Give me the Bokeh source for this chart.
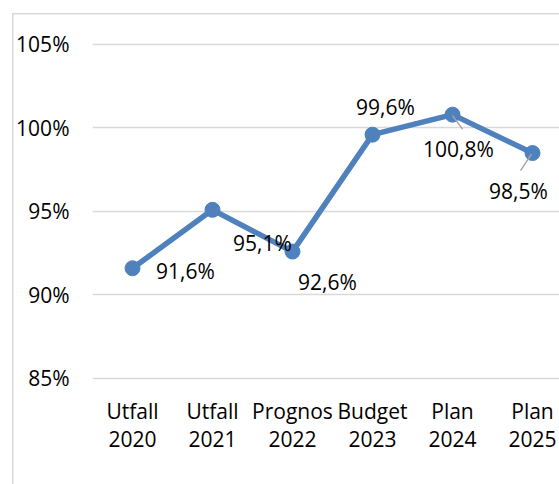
from bokeh.plotting import figure
from bokeh.models import ColumnDataSource, FixedTicker, Range1d
from bokeh.core.properties import value
from bokeh.embed import file_html
from bokeh.resources import INLINE

# ---- data ----
categories = ["Utfall\n2020", "Utfall\n2021", "Prognos\n2022", "Budget\n2023", "Plan\n2024", "Plan\n2025"]
values = [91.6, 95.1, 92.6, 99.6, 100.8, 98.5]
value_labels = ["91,6%", "95,1%", "92,6%", "99,6%", "100,8%", "98,5%"]
y_ticks = [85, 90, 95, 100, 105]
y_tick_labels = ["85%", "90%", "95%", "100%", "105%"]

# ---- label placement (screen px, relative to the point) ----
label_dx = [53, 50, 35, 13, 6, -14]
label_dy = [3, 33, 30, -28, 34, 38]
# leader lines (index, start offset px, end offset px)
leaders = [(4, (0, 1), (10, 14.5)), (5, (-1, 1), (-12, 17.5))]

FONT = "Open Sans"
FS = "21px"
W, H = 559, 484
BL, BR, BT, BB = 92, 0, 28, 104
X0, X1 = -0.5, 5.3375
Y0, Y1 = 84.88, 105.958
fw, fh = W - BL - BR, H - BT - BB
sx = fw / (X1 - X0)
sy = fh / (Y1 - Y0)

xs = list(range(len(categories)))
src = ColumnDataSource(dict(x=xs, y=values, lab=value_labels, dx=label_dx, dy=label_dy))

p = figure(width=W, height=H, output_backend="svg", toolbar_location=None,
           x_range=Range1d(X0, X1), y_range=Range1d(Y0, Y1),
           min_border_left=BL, min_border_right=BR, min_border_top=BT, min_border_bottom=BB)
p.outline_line_color = None
p.background_fill_color = None
p.border_fill_color = None

# chart border (only left and top edges fall inside the picture)
p.styles = {
    "background-color": "white",
    "background-image": "linear-gradient(#d9d9d9, #d9d9d9), linear-gradient(#d9d9d9, #d9d9d9)",
    "background-size": "1.5px 100%, 100% 1.5px",
    "background-position": "12px 13px, 12px 13px",
    "background-repeat": "no-repeat",
}

p.xgrid.visible = False
p.ygrid.ticker = FixedTicker(ticks=y_ticks)
p.ygrid.grid_line_color = "#d9d9d9"
p.ygrid.grid_line_width = 1.5

p.yaxis.ticker = FixedTicker(ticks=y_ticks)
p.yaxis.major_label_overrides = {t: l for t, l in zip(y_ticks, y_tick_labels)}
p.xaxis.ticker = FixedTicker(ticks=xs)
p.xaxis.major_label_overrides = {x: c for x, c in zip(xs, categories)}
for ax in (p.xaxis[0], p.yaxis[0]):
    ax.axis_line_color = None
    ax.major_tick_line_color = None
    ax.minor_tick_line_color = None
    ax.major_label_text_font = FONT
    ax.major_label_text_font_size = FS
    ax.major_label_text_color = "black"
p.yaxis.major_label_standoff = 17
p.xaxis.major_label_standoff = 10
p.xaxis.major_label_text_line_height = 1.0

blue = "#4f81bd"
p.line("x", "y", source=src, line_color=blue, line_width=5.5, line_join="round")
p.scatter("x", "y", source=src, size=15, fill_color=blue, line_color=blue)

# leader lines
lx0, ly0, lx1, ly1 = [], [], [], []
for i, a, b in leaders:
    lx0.append(xs[i] + a[0] / sx); ly0.append(values[i] - a[1] / sy)
    lx1.append(xs[i] + b[0] / sx); ly1.append(values[i] - b[1] / sy)
p.segment(lx0, ly0, lx1, ly1, line_color="#a6a6a6", line_width=1.5)

p.text("x", "y", text="lab", source=src, x_offset="dx", y_offset="dy",
       text_align="center", text_baseline="middle",
       text_font=value(FONT), text_font_size=FS, text_color="black")

open("out.html", "w").write(file_html(p, INLINE))
